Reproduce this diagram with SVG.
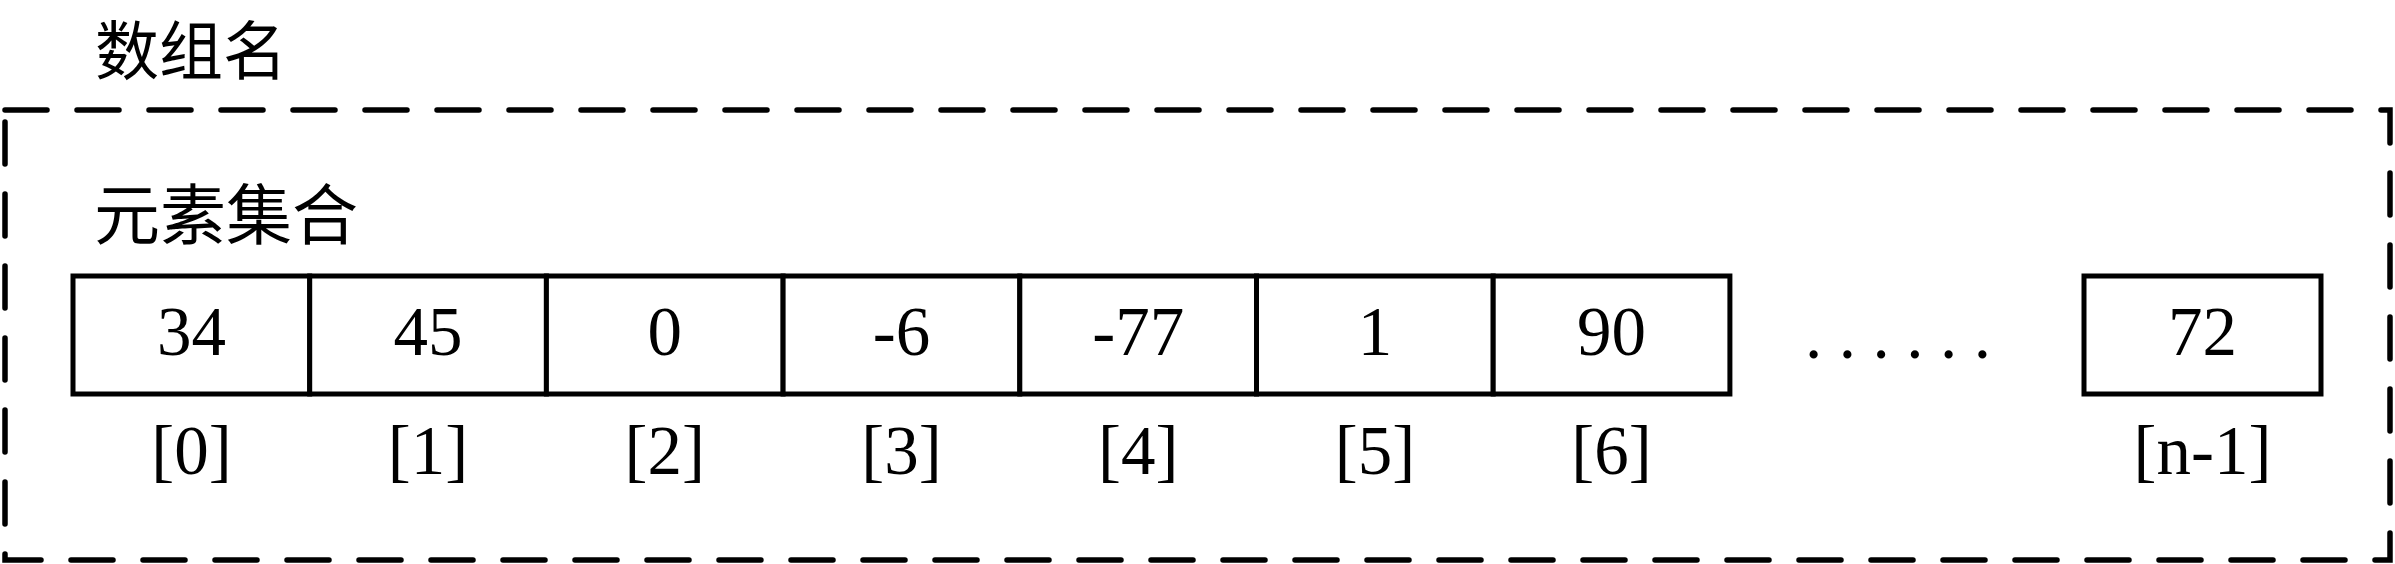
<svg xmlns="http://www.w3.org/2000/svg" width="2395" height="564" viewBox="0 0 2395 564">
<style>
.cell{fill:#fff;stroke:#000;stroke-width:5;stroke-linejoin:miter}
.frame{fill:none;stroke:#000;stroke-width:5.5;stroke-dasharray:42 30;stroke-linecap:round}
.num{font-family:"Liberation Serif","Noto Sans CJK SC",serif;font-size:69px;fill:#000;text-anchor:middle}
.cjk{font-family:"Noto Sans CJK SC","Liberation Serif",serif;font-size:64px;fill:#000}
</style>
<rect width="2395" height="564" fill="#fff"/>
<g id="frame">
<rect class="frame" x="5" y="110" width="2385" height="450"/>
<text class="cjk" x="95" y="74">数组名</text>
<text class="cjk" x="94" y="239" style="font-size:66px">元素集合</text>
</g>
<g id="cell0"><rect class="cell" x="73" y="276" width="236.7" height="118"/><text class="num" x="191.4" y="355">34</text><text class="num" x="191.4" y="474">[0]</text></g>
<g id="cell1"><rect class="cell" x="309.7" y="276" width="236.7" height="118"/><text class="num" x="428.1" y="355">45</text><text class="num" x="428.1" y="474">[1]</text></g>
<g id="cell2"><rect class="cell" x="546.4" y="276" width="236.7" height="118"/><text class="num" x="664.8" y="355">0</text><text class="num" x="664.8" y="474">[2]</text></g>
<g id="cell3"><rect class="cell" x="783.1" y="276" width="236.7" height="118"/><text class="num" x="901.5" y="355">-6</text><text class="num" x="901.5" y="474">[3]</text></g>
<g id="cell4"><rect class="cell" x="1019.8" y="276" width="236.7" height="118"/><text class="num" x="1138.2" y="355">-77</text><text class="num" x="1138.2" y="474">[4]</text></g>
<g id="cell5"><rect class="cell" x="1256.5" y="276" width="236.7" height="118"/><text class="num" x="1374.9" y="355">1</text><text class="num" x="1374.9" y="474">[5]</text></g>
<g id="cell6"><rect class="cell" x="1493.2" y="276" width="236.7" height="118"/><text class="num" x="1611.6" y="355">90</text><text class="num" x="1611.6" y="474">[6]</text></g>
<g id="ellipsis"><text class="num" x="1805" y="358" style="text-anchor:start;letter-spacing:16.5px">......</text></g>
<g id="cellLast"><rect class="cell" x="2084" y="276" width="237" height="118"/><text class="num" x="2202.5" y="355">72</text><text class="num" x="2202.5" y="474">[n-1]</text></g>
<g id="connectors"></g>
</svg>
